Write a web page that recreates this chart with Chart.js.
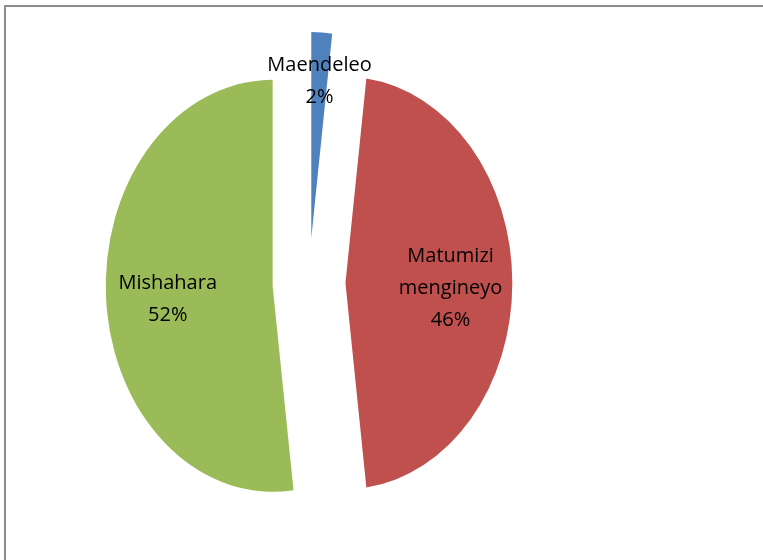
<!DOCTYPE html>
<html>
<head>
<meta charset="utf-8">
<script src="https://cdn.jsdelivr.net/npm/chart.js@4"></script>
<style>
  html, body { margin: 0; padding: 0; background: #fff; overflow: hidden; }
  #frame {
    position: absolute; left: 4px; top: 5px; width: 800px; height: 600px;
    border-left: 2px solid #8c8c8c; border-top: 2px solid #8c8c8c;
  }
  #chart { position: absolute; left: 0; top: 0; }
</style>
</head>
<body>
<div id="frame"></div>
<canvas id="chart" width="763" height="560"></canvas>
<script>
// data
const labels = [["Maendeleo"], ["Matumizi", "mengineyo"], ["Mishahara"]];
const values = [2, 46, 52];
const colors = ["#4F81BD", "#C0504D", "#9BBB59"];
const labelPos = [0.785, 0.63, 0.63]; // where the label sits, share of radius

const radius = 206;
const gap = 45;       // how far each slice is pulled out
const squeeze = 0.81; // pie is drawn narrower than tall

const total = values.reduce((a, b) => a + b, 0);

// draw the arcs ourselves so every slice is pulled out by the same distance
// and the whole pie is squeezed sideways
const squeezePlugin = {
  id: "squeeze",
  beforeDatasetsDraw(chart) {
    const ctx = chart.ctx;
    const cx = (chart.chartArea.left + chart.chartArea.right) / 2;
    const arcs = chart.getDatasetMeta(0).data;
    ctx.save();
    ctx.translate(cx, 0);
    ctx.scale(squeeze, 1);
    ctx.translate(-cx, 0);
    arcs.forEach((arc) => {
      const mid = (arc.startAngle + arc.endAngle) / 2;
      ctx.save();
      ctx.translate(Math.cos(mid) * gap, Math.sin(mid) * gap);
      arc.draw(ctx);
      ctx.restore();
    });
    ctx.restore();
    return false;
  },
  afterDraw(chart) {
    const ctx = chart.ctx;
    const cx = (chart.chartArea.left + chart.chartArea.right) / 2;
    const arcs = chart.getDatasetMeta(0).data;
    ctx.save();
    ctx.font = "20px 'Open Sans'";
    ctx.fillStyle = "#000";
    ctx.textAlign = "center";
    ctx.textBaseline = "middle";
    arcs.forEach((arc, i) => {
      const mid = (arc.startAngle + arc.endAngle) / 2;
      const d = gap + labelPos[i] * arc.outerRadius;
      const px = arc.x + Math.cos(mid) * d;
      const py = arc.y + Math.sin(mid) * d + 5;
      const sx = cx + (px - cx) * squeeze;
      const pct = Math.round((values[i] / total) * 100) + "%";
      const lines = labels[i].concat([pct]);
      const lh = 32;
      lines.forEach((t, j) => {
        ctx.fillText(t, sx, py + (j - (lines.length - 1) / 2) * lh);
      });
    });
    ctx.restore();
  }
};

new Chart(document.getElementById("chart"), {
  type: "pie",
  data: {
    labels: labels.map(l => l.join(" ")),
    datasets: [{
      data: values,
      backgroundColor: colors,
      borderWidth: 0,
      offset: 0,
      hoverOffset: 0,
      radius: radius,
      clip: false
    }]
  },
  options: {
    responsive: false,
    animation: false,
    events: [],
    layout: { padding: { left: 0, right: 145, top: 6, bottom: 0 } },
    plugins: {
      legend: { display: false },
      tooltip: { enabled: false }
    }
  },
  plugins: [squeezePlugin]
});
</script>
</body>
</html>
